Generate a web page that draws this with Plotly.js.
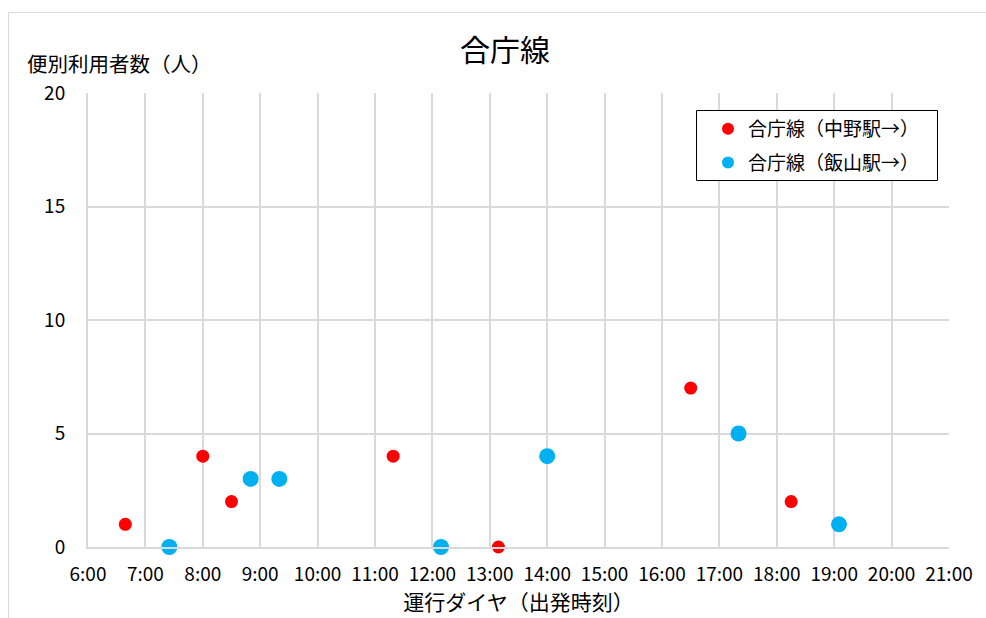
<!DOCTYPE html>
<html>
<head>
<meta charset="utf-8">
<script src="https://cdn.plot.ly/plotly-3.0.1.min.js"></script>
<style>
html,body{margin:0;padding:0;background:#fff;}
#chart{width:986px;height:618px;}
</style>
</head>
<body>
<div id="chart"></div>
<script>
// Data
const seriesNames = ["合庁線（中野駅→）", "合庁線（飯山駅→）"];
const nakanoTimes = ["6:39", "8:00", "8:30", "11:19", "13:09", "16:30", "18:15"];
const nakanoRiders = [1, 4, 2, 4, 0, 7, 2];
const iiyamaTimes = ["7:25", "8:50", "9:20", "12:09", "14:00", "17:20", "19:05"];
const iiyamaRiders = [0, 3, 3, 0, 4, 5, 1];
const xTickLabels = ["6:00","7:00","8:00","9:00","10:00","11:00","12:00","13:00","14:00","15:00","16:00","17:00","18:00","19:00","20:00","21:00"];
const yTicks = [0, 5, 10, 15, 20];
const chartTitle = "合庁線";
const xTitle = "運行ダイヤ（出発時刻）";
const yTitle = "便別利用者数（人）";

function toHours(t){ const p = t.split(":"); return Number(p[0]) + Number(p[1]) / 60; }

const FONT = '"Noto Sans CJK JP", "Noto Sans", sans-serif';
const L = 88, R = 949, T = 93, B = 547;
const px2x = v => (v - L) / (R - L);
const px2y = v => (B - v) / (B - T);

const traces = [
  {
    type: "scatter", mode: "markers", name: seriesNames[0], legendgroup: "a",
    x: nakanoTimes.map(toHours), y: nakanoRiders,
    marker: {color: "#ff0000", size: 13},
    cliponaxis: false
  },
  {
    type: "scatter", mode: "markers", name: seriesNames[1], legendgroup: "b",
    x: iiyamaTimes.map(toHours), y: iiyamaRiders,
    marker: {color: "#00b0f0", size: 16},
    cliponaxis: false
  }
];

const layout = {
  width: 986, height: 618,
  margin: {l: L, r: 986 - R, t: T, b: 618 - B, pad: 0},
  paper_bgcolor: "#fff", plot_bgcolor: "#fff",
  font: {family: FONT, color: "#000", size: 18},
  title: {text: chartTitle, x: 505/986, xanchor: "center", y: 1 - 50/618, yanchor: "middle",
          font: {family: FONT, size: 30, color: "#000"}},
  xaxis: {
    range: [6, 21], tickmode: "array",
    tickvals: xTickLabels.map(toHours), ticktext: xTickLabels,
    showgrid: true, gridcolor: "#d9d9d9", gridwidth: 2,
    showline: true, linecolor: "#d9d9d9", linewidth: 2,
    zeroline: false, ticks: "outside", ticklen: 9, tickcolor: "rgba(0,0,0,0)",
    tickfont: {family: FONT, size: 19, color: "#000"},
    title: {text: xTitle, font: {family: FONT, size: 21, color: "#000"}, standoff: 9},
    fixedrange: true
  },
  yaxis: {
    range: [0, 20], tickmode: "array", tickvals: yTicks, ticktext: yTicks.map(String),
    showgrid: true, gridcolor: "#d9d9d9", gridwidth: 2,
    showline: true, linecolor: "#d9d9d9", linewidth: 2,
    zeroline: false, ticks: "outside", ticklen: 17, tickcolor: "rgba(0,0,0,0)",
    tickfont: {family: FONT, size: 19, color: "#000"},
    fixedrange: true
  },
  showlegend: true,
  legend: {
    x: px2x(708), xanchor: "left", y: px2y(110), yanchor: "top",
    bgcolor: "rgba(255,255,255,0)", borderwidth: 0,
    font: {family: FONT, size: 19, color: "#000"},
    itemsizing: "constant", traceorder: "grouped", tracegroupgap: 6
  },
  annotations: [
    {text: yTitle, xref: "paper", yref: "paper", x: px2x(25), xanchor: "left",
     y: px2y(63), yanchor: "middle", showarrow: false,
     font: {family: FONT, size: 20.5, color: "#000"}}
  ],
  shapes: [
    {type: "rect", xref: "paper", yref: "paper",
     x0: px2x(8.5), x1: 1.5, y0: -1, y1: px2y(12.5),
     line: {color: "#d9d9d9", width: 1}, fillcolor: "rgba(0,0,0,0)", layer: "below"},
    {type: "rect", xref: "paper", yref: "paper",
     x0: px2x(696.5), x1: px2x(937.5), y0: px2y(180.5), y1: px2y(110.5),
     line: {color: "#000", width: 1}, fillcolor: "#fff", layer: "above"}
  ]
};

Plotly.newPlot("chart", traces, layout, {displayModeBar: false, staticPlot: true});
</script>
</body>
</html>
